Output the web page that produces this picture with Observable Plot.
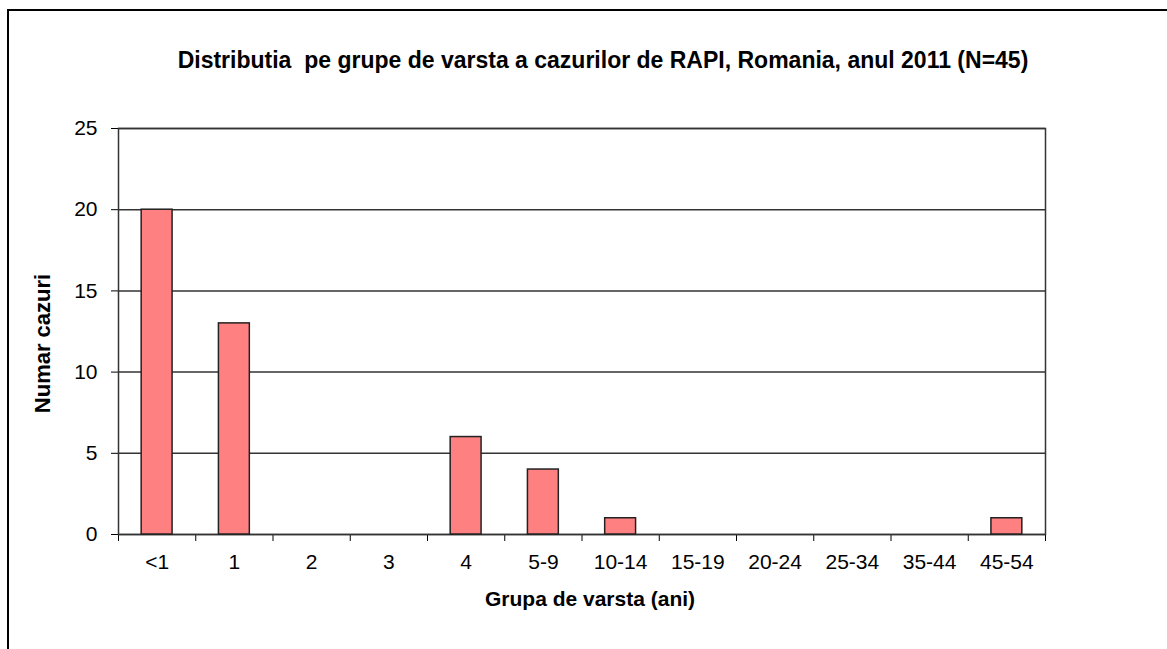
<!DOCTYPE html>
<html>
<head>
<meta charset="utf-8">
<script src="https://cdn.jsdelivr.net/npm/d3@7"></script>
<script src="https://cdn.jsdelivr.net/npm/@observablehq/plot@0.6"></script>
<style>
  html, body { margin: 0; padding: 0; background: #fff; }
  #wrap { position: relative; width: 1167px; height: 649px; overflow: hidden; font-family: "Liberation Sans", Arial, sans-serif; }
  #border { position: absolute; left: 7px; top: 9px; width: 2000px; height: 2000px; border-left: 2px solid #000; border-top: 2px solid #000; }
  #title { position: absolute; left: 0; top: 46px; width: 1206px; text-align: center; font-weight: bold; font-size: 23px; line-height: 28px; color: #000; }
  #chart { position: absolute; left: 0; top: 0; }
</style>
</head>
<body>
<div id="wrap">
  <div id="border"></div>
  <div id="title">Distributia&nbsp; pe grupe de varsta a cazurilor de RAPI, Romania, anul 2011 (N=45)</div>
  <div id="chart"></div>
</div>
<script>
const categories = ["<1", "1", "2", "3", "4", "5-9", "10-14", "15-19", "20-24", "25-34", "35-44", "45-54"];
const cases = [20, 13, 0, 0, 6, 4, 1, 0, 0, 0, 0, 1];
const yTicks = [0, 5, 10, 15, 20, 25];
const xLabel = "Grupa de varsta (ani)";
const yLabel = "Numar cazuri";

const rows = categories.map((c, i) => ({category: c, index: i, value: cases[i]}));
const boundaries = d3.range(categories.length + 1);

const chart = Plot.plot({
  width: 1167,
  height: 649,
  marginLeft: 118,
  marginRight: 122,
  marginTop: 128,
  marginBottom: 115,
  style: {fontFamily: "'Liberation Sans', Arial, sans-serif", fontSize: "21px", color: "#000", background: "transparent"},
  x: {
    domain: [0, categories.length],
    ticks: boundaries,
    tickFormat: () => "",
    tickSize: 7,
    label: null
  },
  y: {
    domain: [0, 25],
    ticks: yTicks,
    tickSize: 7,
    tickPadding: 14,
    label: null
  },
  marks: [
    Plot.ruleY(yTicks, {stroke: "#333", strokeWidth: 1.5}),
    Plot.frame({stroke: "#333", strokeWidth: 1.5}),
    Plot.rectY(rows.filter(d => d.value > 0), {
      x1: d => d.index + 0.3,
      x2: d => d.index + 0.7,
      y: "value",
      fill: "#FF8080",
      stroke: "#222",
      strokeWidth: 1.5
    }),
    Plot.text(rows, {x: d => d.index + 0.5, y: 0, text: "category", dy: 28, fontSize: 21, fill: "#000"}),
    Plot.text([xLabel], {frameAnchor: "bottom", text: d => d, dy: 71, dx: 8, fontSize: 21, fontWeight: "bold", fill: "#000"}),
    Plot.text([yLabel], {frameAnchor: "left", text: d => d, rotate: -90, textAnchor: "middle", dx: -76, dy: 12, fontSize: 22, fontWeight: "bold", fill: "#000"})
  ]
});
document.getElementById("chart").appendChild(chart);
</script>
</body>
</html>
